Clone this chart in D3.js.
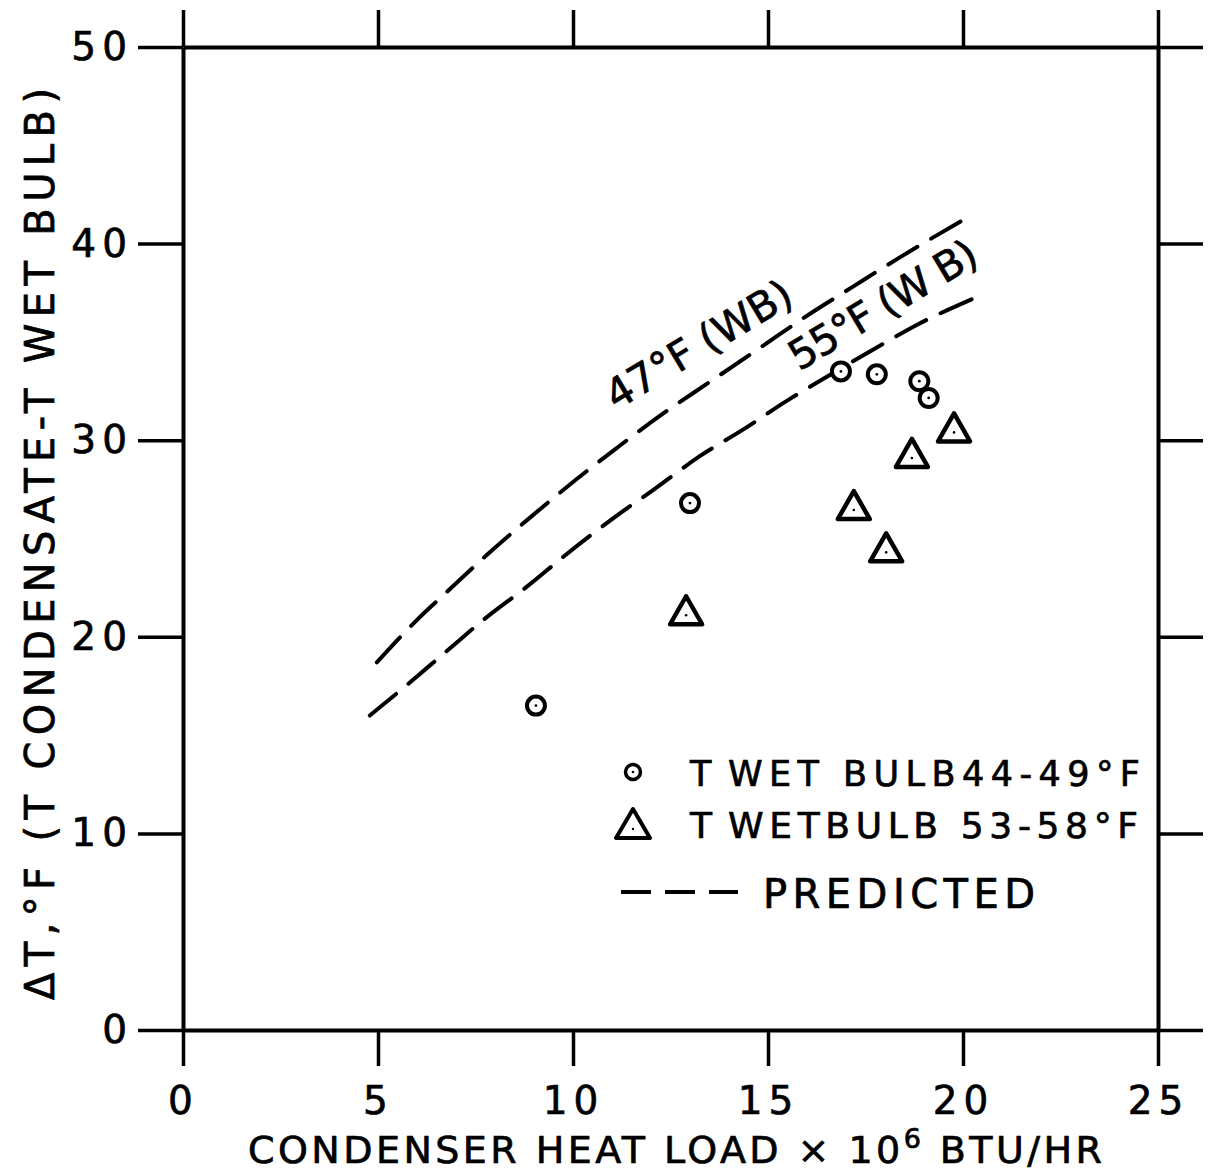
<!DOCTYPE html>
<html>
<head>
<meta charset="utf-8">
<script src="https://cdn.jsdelivr.net/npm/d3@7"></script>
<style>
    body { margin: 0; background: #fff; }
    svg { display: block; font-family: "DejaVu Sans", sans-serif; }
    svg text { fill: #000; stroke: #000; stroke-width: 0.7px; }
</style>
</head>
<body>
<svg width="1208" height="1175"></svg>
<script>
// tick values
const xTicks = [0, 5, 10, 15, 20, 25];
const yTicks = [0, 10, 20, 30, 40, 50];

// predicted curves (dashed)
const x47 = [4.97, 5.97, 6.72, 7.81, 8.92, 10.08, 11.12, 12.27, 13.46, 14.87, 15.9, 17.17, 18.38, 20.22];
const y47 = [18.7, 20.8, 22.2, 24.2, 26.1, 28.0, 29.6, 31.3, 32.9, 34.8, 36.2, 37.8, 39.3, 41.45];
const x55 = [4.79, 5.77, 6.72, 7.79, 8.85, 9.77, 11.08, 12.08, 13.26, 14.41, 15.48, 16.4, 17.69, 18.85, 20.26];
const y55 = [16.0, 17.6, 19.2, 21.0, 22.6, 24.1, 26.1, 27.5, 29.2, 30.6, 32.0, 33.1, 34.6, 35.9, 37.2];

// measured points
const circX = [9.05, 13.0, 16.87, 17.79, 18.88, 19.12];
const circY = [16.5, 26.8, 33.5, 33.35, 33.0, 32.15];
const triX = [12.9, 17.2, 18.03, 18.69, 19.77];
const triY = [21.3, 26.65, 24.5, 29.3, 30.6];

const svg = d3.select("svg");

const x = d3.scaleLinear().domain([0, 25]).range([183, 1158]);
const y = d3.scaleLinear().domain([0, 50]).range([1030, 47]);

const styleAxis = (g) => {
    g.select(".domain").attr("stroke", "#000").attr("stroke-width", 4);
    g.selectAll(".tick line").attr("stroke", "#000").attr("stroke-width", 3.5);
    g.selectAll(".tick text")
        .attr("font-size", 39)
        .attr("font-family", "DejaVu Sans")
        .attr("letter-spacing", 6);
};

svg.append("g")
    .attr("transform", `translate(0,${y(0)})`)
    .call(d3.axisBottom(x).tickValues(xTicks).tickSize(36).tickSizeOuter(0).tickPadding(20).tickFormat(d3.format("d")))
    .call(styleAxis);

svg.append("g")
    .attr("transform", `translate(0,${y(50)})`)
    .call(d3.axisTop(x).tickValues(xTicks).tickSize(37).tickSizeOuter(0).tickFormat(""))
    .call(styleAxis);

svg.append("g")
    .attr("transform", `translate(${x(0)},0)`)
    .call(d3.axisLeft(y).tickValues(yTicks).tickSize(45).tickSizeOuter(0).tickPadding(5).tickFormat(d3.format("d")))
    .call(styleAxis);

svg.append("g")
    .attr("transform", `translate(${x(25)},0)`)
    .call(d3.axisRight(y).tickValues(yTicks).tickSize(45).tickSizeOuter(0).tickFormat(""))
    .call(styleAxis);

// dashed predicted curves
const line = d3.line()
    .x((d) => x(d[0]))
    .y((d) => y(d[1]))
    .curve(d3.curveMonotoneX);

[[x47, y47], [x55, y55]].forEach(([xs, ys]) => {
    svg.append("path")
        .datum(xs.map((v, i) => [v, ys[i]]))
        .attr("d", line)
        .attr("fill", "none")
        .attr("stroke", "#000")
        .attr("stroke-width", 4)
        .attr("stroke-linecap", "round")
        .attr("stroke-dasharray", "34,16");
});

// curve labels
const curveLabel = (tx, ty, txt, len) => {
    svg.append("text")
        .attr("transform", `translate(${x(tx)},${y(ty)}) rotate(-31)`)
        .attr("font-size", 41)
        .attr("textLength", len)
        .attr("lengthAdjust", "spacing")
        .text(txt);
};
curveLabel(11.1, 31.5, "47°F (WB)", 210);
curveLabel(15.8, 33.5, "55°F (W B)", 212);

// markers
const triPath = "M0,-15L16,13L-16,13Z";

const circles = svg.append("g").selectAll("g")
    .data(circX.map((v, i) => [v, circY[i]]))
    .join("g")
    .attr("transform", (d) => `translate(${x(d[0])},${y(d[1])})`);
circles.append("circle").attr("r", 9).attr("fill", "#fff").attr("stroke", "#000").attr("stroke-width", 4);
circles.append("circle").attr("r", 1.4).attr("fill", "#000");

const tris = svg.append("g").selectAll("g")
    .data(triX.map((v, i) => [v, triY[i]]))
    .join("g")
    .attr("transform", (d) => `translate(${x(d[0])},${y(d[1])})`);
tris.append("path").attr("d", triPath).attr("fill", "#fff").attr("stroke", "#000").attr("stroke-width", 4.5).attr("stroke-linejoin", "round");
tris.append("circle").attr("r", 1.3).attr("fill", "#000").attr("cy", 4);

// legend
const leg = svg.append("g");
const lc = leg.append("g").attr("transform", "translate(633,772)");
lc.append("circle").attr("r", 7.5).attr("fill", "#fff").attr("stroke", "#000").attr("stroke-width", 3.5);
lc.append("circle").attr("r", 1.3).attr("fill", "#000");
leg.append("text").attr("x", 690).attr("y", 786).attr("font-size", 35).text("T");
leg.append("text").attr("x", 728).attr("y", 786).attr("font-size", 35)
    .attr("textLength", 412).attr("lengthAdjust", "spacing").text("WET BULB44-49°F");

const lt = leg.append("g").attr("transform", "translate(633,825)");
lt.append("path").attr("d", "M0,-16L17,13L-17,13Z").attr("fill", "#fff").attr("stroke", "#000").attr("stroke-width", 4).attr("stroke-linejoin", "round");
lt.append("circle").attr("r", 1.2).attr("fill", "#000").attr("cy", 4);
leg.append("text").attr("x", 690).attr("y", 838).attr("font-size", 36).text("T");
leg.append("text").attr("x", 728).attr("y", 838).attr("font-size", 36)
    .attr("textLength", 410).attr("lengthAdjust", "spacing").text("WETBULB 53-58°F");

leg.append("line").attr("x1", 621).attr("x2", 738).attr("y1", 892).attr("y2", 892)
    .attr("stroke", "#000").attr("stroke-width", 4).attr("stroke-dasharray", "30,14");
leg.append("text").attr("x", 763).attr("y", 908).attr("font-size", 40)
    .attr("textLength", 272).attr("lengthAdjust", "spacing").text("PREDICTED");

// axis titles
const xt = svg.append("text")
    .attr("x", 248).attr("y", 1163)
    .attr("font-size", 38)
    .attr("textLength", 854).attr("lengthAdjust", "spacing");
xt.append("tspan").text("CONDENSER HEAT LOAD × 10");
xt.append("tspan").attr("dy", -15).attr("font-size", 27).text("6");
xt.append("tspan").attr("dy", 15).text(" BTU/HR");

svg.append("text")
    .attr("transform", "translate(54,1000) rotate(-90)")
    .attr("font-size", 40)
    .attr("textLength", 912).attr("lengthAdjust", "spacing")
    .text("ΔT,°F  (T CONDENSATE-T WET BULB)");
</script>
</body>
</html>
